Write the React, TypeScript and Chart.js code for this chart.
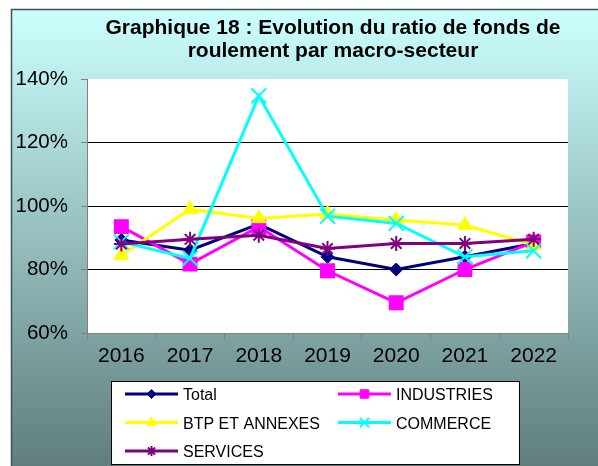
import React, { useEffect, useRef } from 'react';
import { Chart, registerables } from 'chart.js';
import { drawPoint } from 'chart.js/helpers';

Chart.register(...registerables);

const years = ['2016', '2017', '2018', '2019', '2020', '2021', '2022'];
const total = [89.3, 86.1, 94.3, 84.0, 80.0, 84.0, 88.2];
const industries = [93.5, 81.7, 93.5, 79.6, 69.5, 80.0, 88.7];
const btp = [84.5, 99.0, 96.1, 97.5, 95.6, 94.0, 87.7];
const commerce = [88.7, 83.5, 134.7, 96.8, 94.5, 84.0, 85.9];
const services = [88.0, 89.5, 90.8, 86.6, 88.2, 88.2, 89.5];
const yTicks = [60, 80, 100, 120, 140];
const titleLines = ['Graphique 18 : Evolution du ratio de fonds de', 'roulement par macro-secteur'];

const FONT = "'Liberation Sans', Arial, sans-serif";
const W = 598;
const H = 466;

// legend layout: [datasetIndex, column, row]
const legendSlots = [
  [0, 0, 0],
  [1, 1, 0],
  [2, 0, 1],
  [3, 1, 1],
  [4, 0, 2],
];
const legendMarkerRadius = [4.5, 6, 5.5, 6.5, 5];

const bgPlugin = {
  id: 'bgPlugin',
  beforeDraw(chart: any) {
    const ctx = chart.ctx;
    ctx.save();
    ctx.fillStyle = '#ffffff';
    ctx.fillRect(0, 0, W, H);
    const g = ctx.createLinearGradient(0, 9, 0, 480);
    g.addColorStop(0, '#ccffff');
    g.addColorStop(1, '#5c7a78');
    ctx.fillStyle = g;
    ctx.fillRect(11, 9, W, H);
    ctx.strokeStyle = '#3b5553';
    ctx.lineWidth = 1.5;
    ctx.beginPath();
    ctx.moveTo(11.5, H);
    ctx.lineTo(11.5, 9.5);
    ctx.lineTo(W, 9.5);
    ctx.stroke();
    const a = chart.chartArea;
    ctx.fillStyle = '#ffffff';
    ctx.fillRect(a.left, a.top, a.right - a.left, a.bottom - a.top);
    ctx.restore();
  },
  afterDraw(chart: any) {
    const ctx = chart.ctx;
    ctx.save();
    // title
    ctx.fillStyle = '#000000';
    ctx.font = `bold 21px ${FONT}`;
    ctx.textAlign = 'center';
    ctx.textBaseline = 'alphabetic';
    ctx.fillText(titleLines[0], 333, 34);
    ctx.fillText(titleLines[1], 333, 56.7);

    // legend box
    ctx.fillStyle = '#ffffff';
    ctx.fillRect(111.5, 381.5, 408, 83);
    ctx.strokeStyle = '#000000';
    ctx.lineWidth = 1;
    ctx.strokeRect(111.5, 381.5, 408, 83);

    const colX = [125, 338];
    const rowY = [394, 422.5, 451];
    ctx.font = `16px ${FONT}`;
    ctx.textAlign = 'left';
    legendSlots.forEach(([di, c, r]) => {
      const ds = chart.data.datasets[di];
      const x0 = colX[c];
      const y = rowY[r];
      ctx.strokeStyle = ds.borderColor;
      ctx.lineWidth = 3;
      ctx.beginPath();
      ctx.moveTo(x0, y);
      ctx.lineTo(x0 + 53, y);
      ctx.stroke();
      ctx.fillStyle = ds.backgroundColor;
      ctx.strokeStyle = ds.borderColor;
      ctx.lineWidth = ds.pointStyle === 'crossRot' || ds.pointStyle === 'star' ? 2 : 1;
      drawPoint(ctx, { pointStyle: ds.pointStyle, rotation: 0, radius: legendMarkerRadius[di], borderWidth: ctx.lineWidth }, x0 + 26.5, y);
      ctx.fillStyle = '#000000';
      ctx.fillText(ds.label, x0 + 58, y + 6);
    });
    ctx.restore();
  },
};

function makeDataset(label: string, data: number[], color: string, pointStyle: string, radius: number, pbw: number, order: number) {
  return {
    label,
    data,
    borderColor: color,
    backgroundColor: color,
    pointBackgroundColor: color,
    pointBorderColor: color,
    borderWidth: 3,
    pointStyle,
    pointRadius: radius,
    pointBorderWidth: pbw,
    tension: 0,
    fill: false,
    order,
  };
}

export default function App() {
  const canvasRef = useRef<HTMLCanvasElement | null>(null);

  useEffect(() => {
    document.body.style.margin = '0';
    const canvas = canvasRef.current;
    if (!canvas) return;
    const chart = new Chart(canvas, {
      type: 'line',
      data: {
        labels: years,
        datasets: [
          makeDataset('Total', total, '#000080', 'rectRot', 6.5, 1, 5),
          makeDataset('INDUSTRIES', industries, '#ff00ff', 'rect', 9.5, 1.5, 4),
          makeDataset('BTP ET ANNEXES', btp, '#ffff00', 'triangle', 8.5, 1, 3),
          makeDataset('COMMERCE', commerce, '#00ffff', 'crossRot', 10.5, 2, 2),
          makeDataset('SERVICES', services, '#800080', 'star', 7.5, 2, 1),
        ],
      } as any,
      options: {
        animation: false,
        responsive: true,
        maintainAspectRatio: false,
        events: [],
        layout: { padding: { top: 79, left: 0, right: 30, bottom: 93 } },
        plugins: {
          legend: { display: false },
          title: { display: false },
          tooltip: { enabled: false },
        },
        scales: {
          x: {
            type: 'category',
            offset: true,
            grid: {
              offset: true,
              drawOnChartArea: false,
              tickLength: 6,
              color: '#808080',
              tickColor: '#808080',
            },
            border: { color: '#808080', width: 1 },
            ticks: {
              color: '#000000',
              font: { family: FONT, size: 21 },
              padding: 5,
              maxRotation: 0,
              autoSkip: false,
            },
            afterFit(scale: any) {
              scale.height = 40;
            },
          },
          y: {
            min: 60,
            max: 140,
            afterBuildTicks(scale: any) {
              scale.ticks = yTicks.map((v) => ({ value: v }));
            },
            grid: {
              color: (c: any) => (c.tick && c.tick.value > 60 && c.tick.value < 140 ? '#000000' : 'rgba(0,0,0,0)'),
              tickColor: '#808080',
              tickLength: 6,
              lineWidth: 1,
            },
            border: { color: '#808080', width: 1 },
            ticks: {
              color: '#000000',
              font: { family: FONT, size: 20.5 },
              padding: 13,
              callback: (v: any) => `${v}%`,
            },
            afterFit(scale: any) {
              scale.width = 87;
            },
          },
        },
      } as any,
      plugins: [bgPlugin],
    });
    return () => chart.destroy();
  }, []);

  return (
    <div style={{ position: 'absolute', left: 0, top: 0, width: W, height: H }}>
      <canvas ref={canvasRef} />
    </div>
  );
}
